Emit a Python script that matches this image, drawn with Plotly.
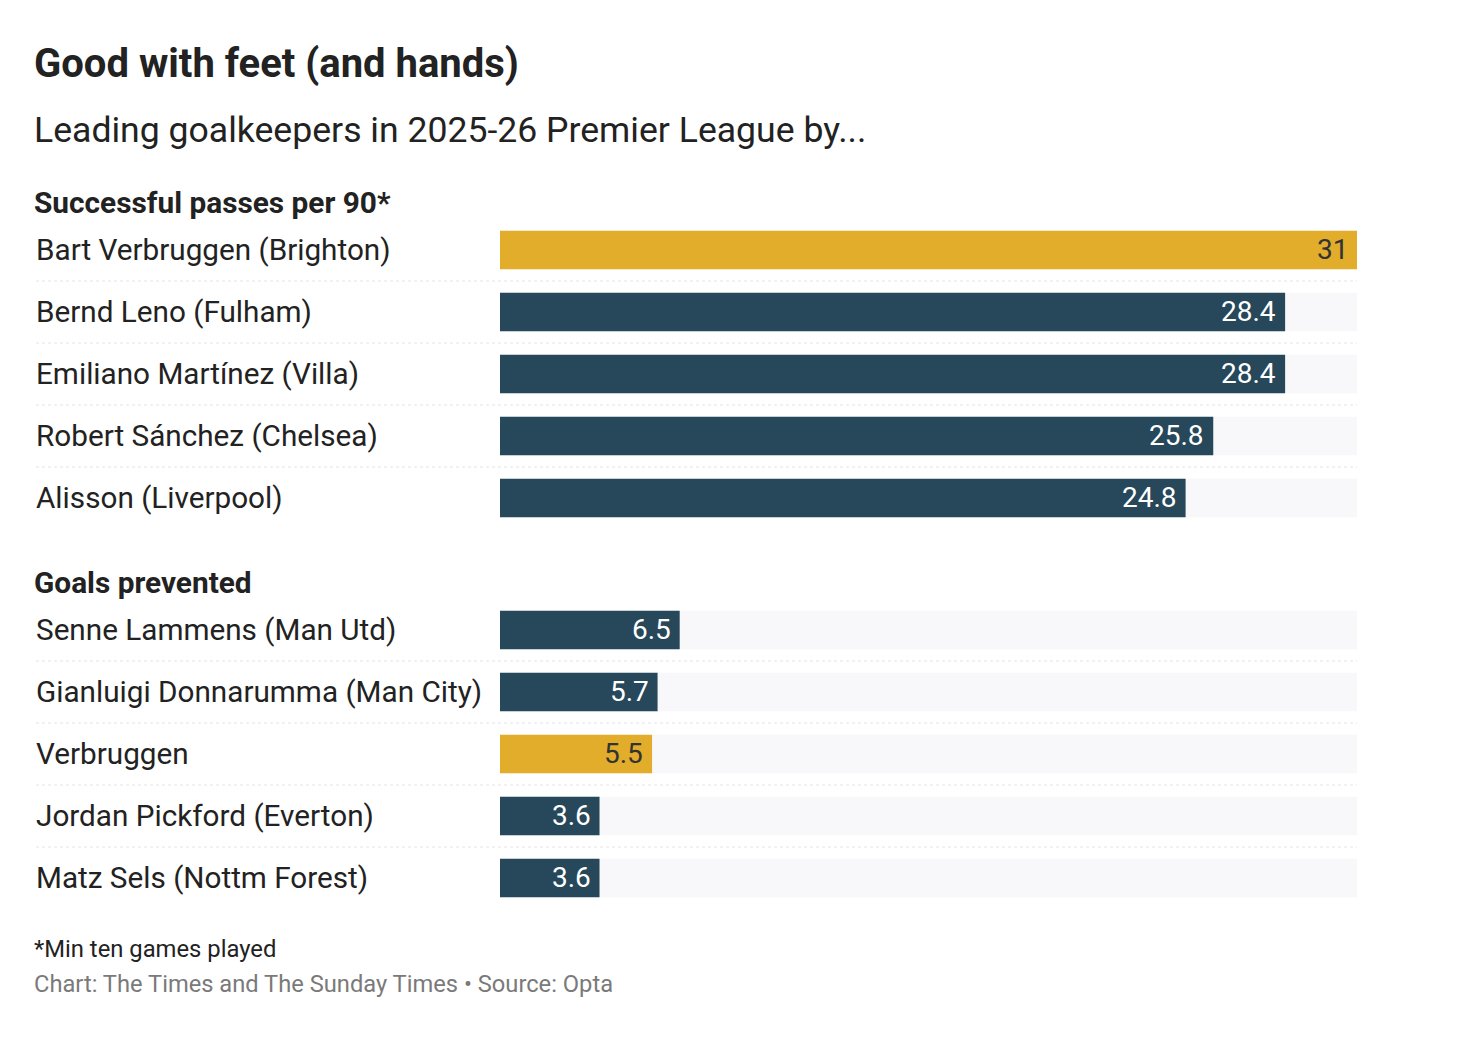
import plotly.graph_objects as go

W, H = 1481, 1054
OFF = 8  # page body margin

title = "Good with feet (and hands)"
subtitle = "Leading goalkeepers in 2025-26 Premier League by..."

passes_header = "Successful passes per 90*"
passes_names = ["Bart Verbruggen (Brighton)", "Bernd Leno (Fulham)", "Emiliano Martínez (Villa)",
                "Robert Sánchez (Chelsea)", "Alisson (Liverpool)"]
passes_values = [31, 28.4, 28.4, 25.8, 24.8]
passes_highlight = [True, False, False, False, False]

goals_header = "Goals prevented"
goals_names = ["Senne Lammens (Man Utd)", "Gianluigi Donnarumma (Man City)", "Verbruggen",
               "Jordan Pickford (Everton)", "Matz Sels (Nottm Forest)"]
goals_values = [6.5, 5.7, 5.5, 3.6, 3.6]
goals_highlight = [False, False, True, False, False]

footnote = "*Min ten games played"
source = "Chart: The Times and The Sunday Times • Source: Opta"

x_max = 31

YELLOW = "#E1AD2B"
NAVY = "#27475A"
BG = "#F8F8FA"
TEXT = "#222222"
FONT = "Roboto"

def px_x(p):
    return (p - OFF) / W

def px_y(p):
    return 1 - (p - OFF) / H

fig = go.Figure()
annotations = []
shapes = []

panels = [
    ("x", "y", passes_names, passes_values, passes_highlight),
    ("x2", "y2", goals_names, goals_values, goals_highlight),
]

for xa, ya, names, vals, hl in panels:
    n = len(names)
    fig.add_trace(go.Bar(
        x=[x_max] * n, y=names, orientation="h", xaxis=xa, yaxis=ya,
        marker=dict(color=BG, line=dict(width=0)), width=0.62,
        hoverinfo="skip", showlegend=False,
    ))
    colors = [YELLOW if h else NAVY for h in hl]
    fig.add_trace(go.Bar(
        x=vals, y=names, orientation="h", xaxis=xa, yaxis=ya,
        marker=dict(color=colors, line=dict(width=0)), width=0.62,
        hoverinfo="skip", showlegend=False,
    ))
    for name, v, h in zip(names, vals, hl):
        annotations.append(dict(
            x=v, y=name, xref=xa, yref=ya, text=f"{v:g}", showarrow=False,
            xanchor="right", yanchor="middle", xshift=-7, yshift=1,
            font=dict(family=FONT, size=28, color=("#333333" if h else "white")),
        ))
        annotations.append(dict(
            x=px_x(34), y=name, xref="paper", yref=ya, text=name, showarrow=False,
            xanchor="left", yanchor="middle", yshift=1,
            font=dict(family=FONT, size=29.7, color=TEXT),
        ))
    for k in range(n - 1):
        shapes.append(dict(
            type="line", xref="paper", yref=ya, x0=px_x(36), x1=px_x(1357),
            y0=k + 0.5, y1=k + 0.5, line=dict(color="#E4E4E4", width=1, dash="dot"),
        ))

dom_x = [px_x(500), px_x(1357)]
fig.update_layout(
    width=W, height=H,
    margin=dict(l=0, r=0, t=0, b=0),
    paper_bgcolor="white", plot_bgcolor="white",
    barmode="overlay",
    xaxis=dict(domain=dom_x, range=[0, x_max], visible=False, fixedrange=True),
    xaxis2=dict(domain=dom_x, range=[0, x_max], visible=False, fixedrange=True, anchor="y2"),
    yaxis=dict(domain=[px_y(529), px_y(219)], visible=False, categoryorder="array",
               categoryarray=passes_names, range=[len(passes_names) - 0.5, -0.5], anchor="x"),
    yaxis2=dict(domain=[px_y(909), px_y(599)], visible=False, categoryorder="array",
                categoryarray=goals_names, range=[len(goals_names) - 0.5, -0.5], anchor="x2"),
    shapes=shapes,
)

texts = [
    (title, 64, 40, "#222222", True),
    (subtitle, 130, 35.6, "#222222", False),
    (passes_header, 202, 29.8, "#222222", True),
    (goals_header, 582, 29.8, "#222222", True),
    (footnote, 949, 23.8, "#222222", False),
    (source, 984, 23.7, "#7A7A7A", False),
]
for t, yp, size, color, bold in texts:
    annotations.append(dict(
        x=px_x(32), y=px_y(yp), xref="paper", yref="paper",
        text=f"<b>{t}</b>" if bold else t, showarrow=False,
        xanchor="left", yanchor="middle",
        font=dict(family=FONT, size=size, color=color),
    ))

fig.update_layout(annotations=annotations)
fig.write_html("out.html")
